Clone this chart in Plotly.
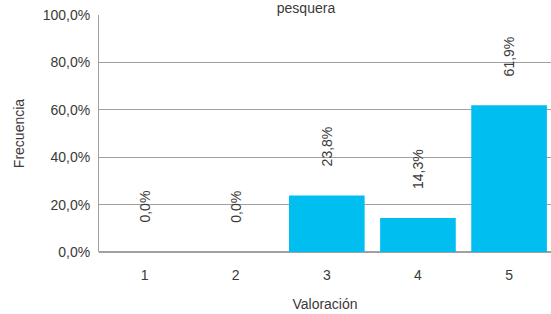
import plotly.graph_objects as go

categories = ["1", "2", "3", "4", "5"]
values = [0.0, 0.0, 23.8, 14.3, 61.9]
labels = ["0,0%", "0,0%", "23,8%", "14,3%", "61,9%"]
y_ticks = [0, 20, 40, 60, 80, 100]
y_ticktext = ["0,0%", "20,0%", "40,0%", "60,0%", "80,0%", "100,0%"]

FONT = "Liberation Sans, Arial, sans-serif"
TXT = "#3a3a3a"
FS = 14

x_pos = [int(c) for c in categories]

fig = go.Figure()
fig.add_trace(go.Bar(
    x=x_pos, y=values, marker=dict(color="#00BFF0", line=dict(width=0)),
    width=0.83, hoverinfo="skip",
))

for xp, v, t in zip(x_pos, values, labels):
    fig.add_annotation(x=xp, y=v, text=t, textangle=-90, showarrow=False,
                       yanchor="bottom", yshift=27,
                       font=dict(family=FONT, size=FS, color=TXT))

fig.update_layout(
    width=551, height=314,
    margin=dict(l=99, r=0, t=15, b=62, autoexpand=False),
    paper_bgcolor="white", plot_bgcolor="white",
    showlegend=False,
    font=dict(family=FONT, size=FS, color=TXT),
    title=dict(text="pesquera", x=306/551, xanchor="center", y=1.0, yanchor="top",
               pad=dict(t=3), font=dict(family=FONT, size=14, color=TXT)),
    xaxis=dict(
        range=[0.5, 5.46], tickvals=x_pos, ticktext=categories,
        showgrid=False, zeroline=False, showline=False,
        ticks="", ticklabelstandoff=13, automargin=False,
        title=dict(text="Valoración", standoff=17, font=dict(family=FONT, size=FS, color=TXT)),
        fixedrange=True,
    ),
    yaxis=dict(
        range=[0, 100], tickvals=y_ticks, ticktext=y_ticktext,
        showgrid=True, gridcolor="#a0a0a0", gridwidth=1,
        zeroline=True, zerolinecolor="#a0a0a0", zerolinewidth=2,
        showline=True, linecolor="#a0a0a0", linewidth=1,
        ticks="", ticklabelstandoff=5, automargin=False,
        title=dict(text="Frecuencia", standoff=14, font=dict(family=FONT, size=FS, color=TXT)),
        fixedrange=True,
    ),
)

fig.write_html("out.html", config={"displayModeBar": False},
               post_script="document.body.style.margin='0';")
